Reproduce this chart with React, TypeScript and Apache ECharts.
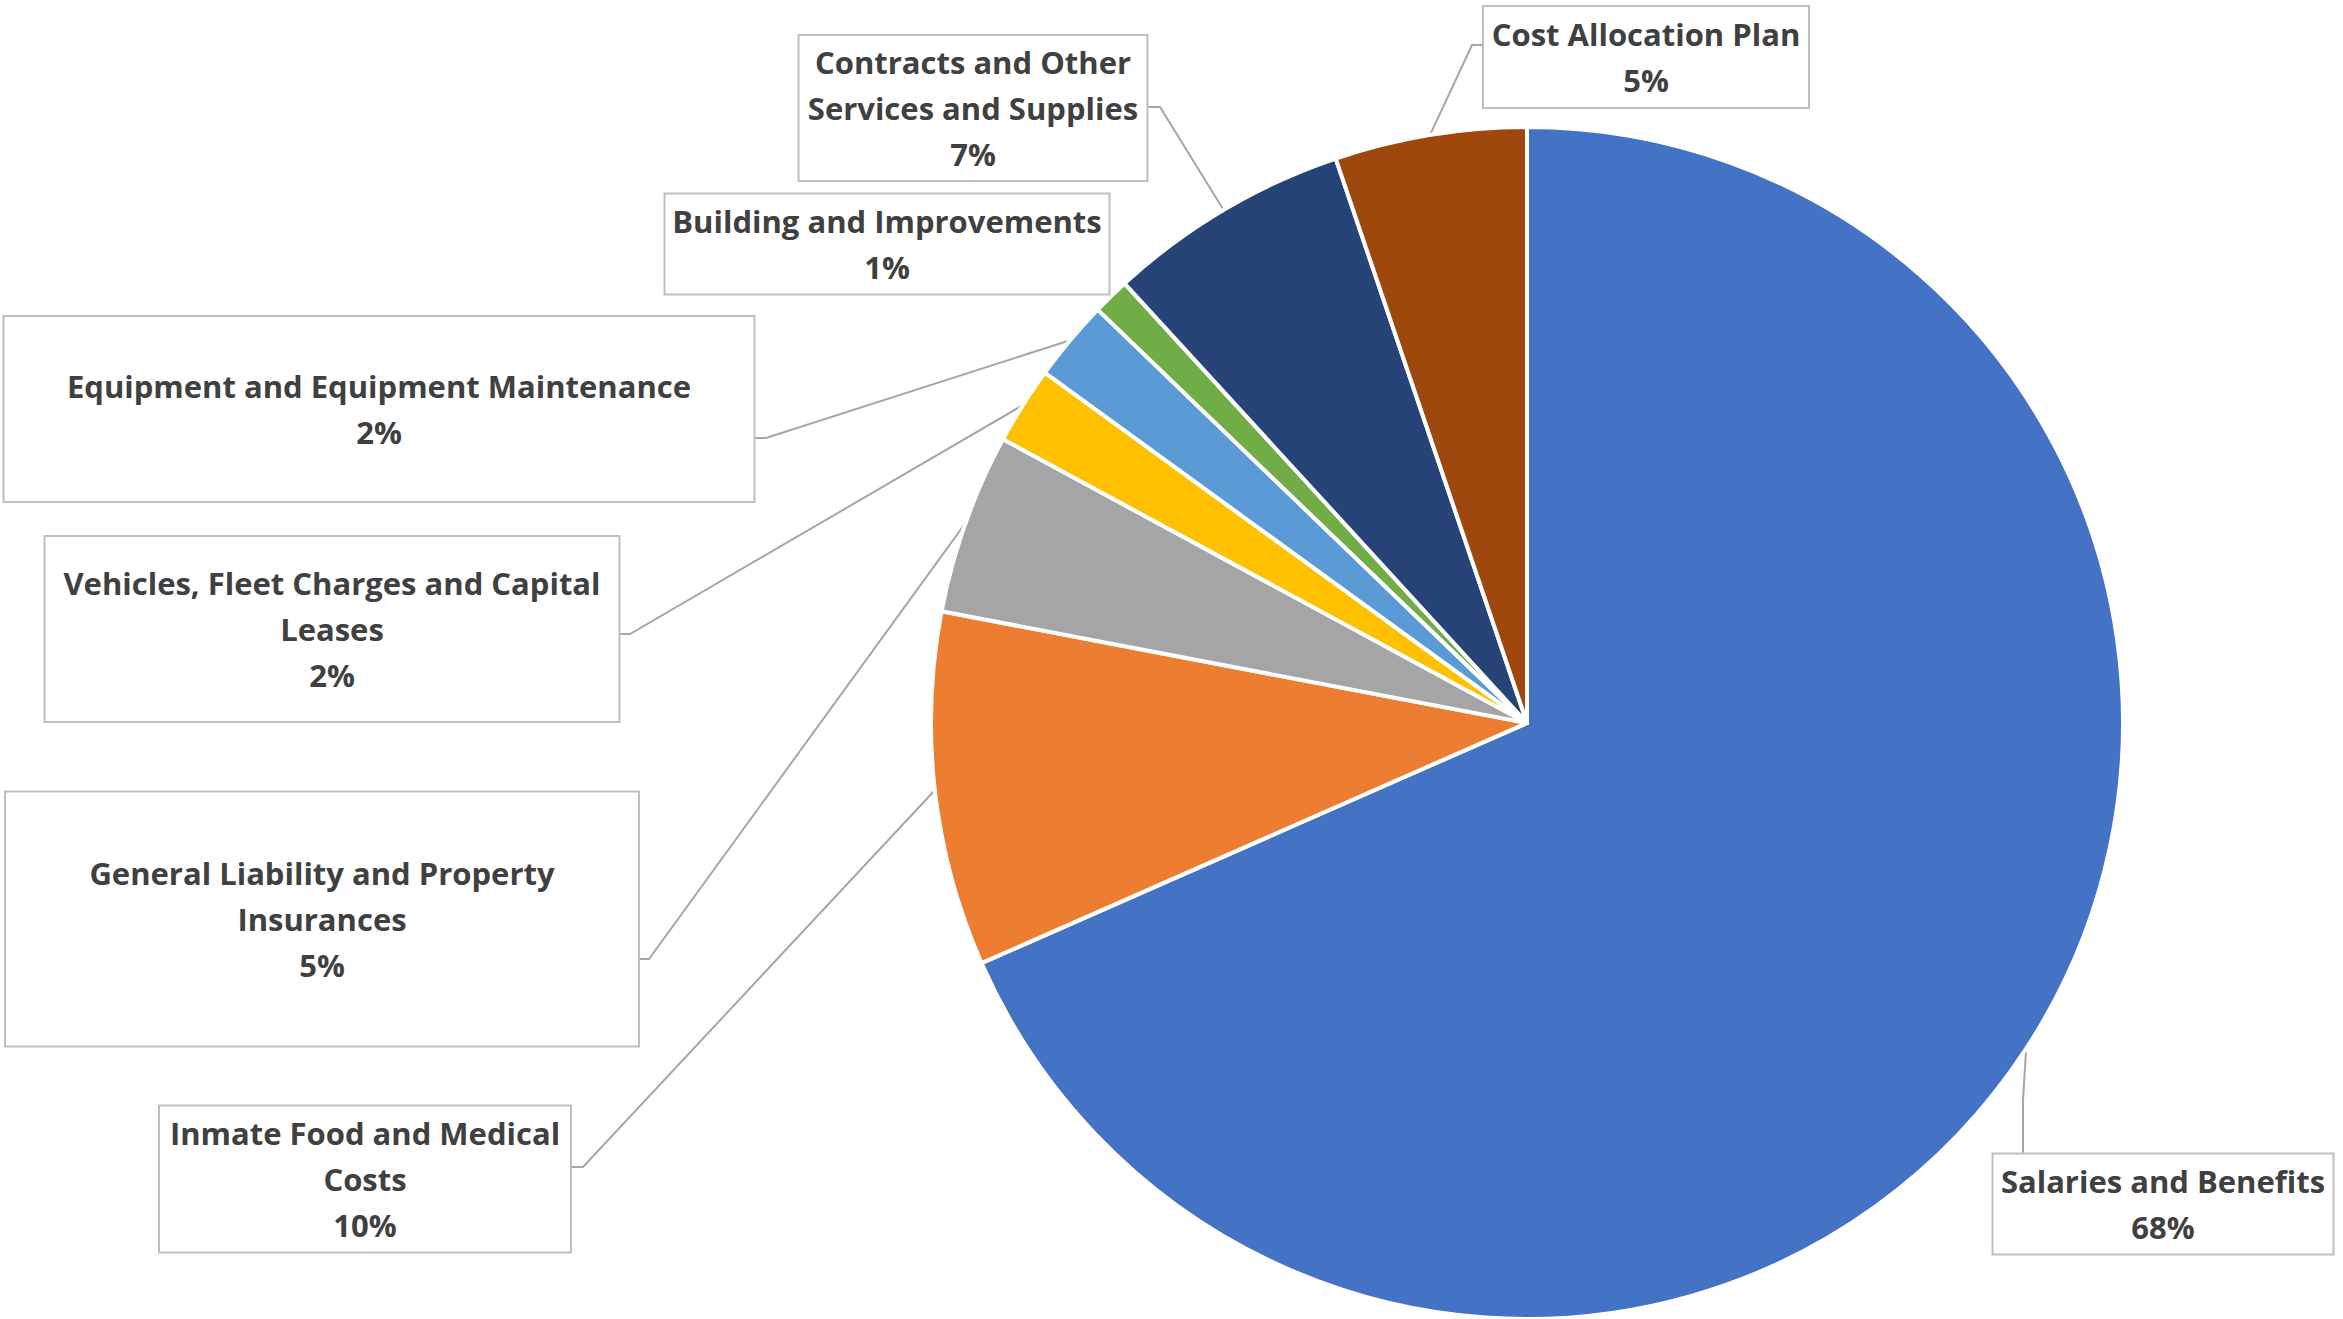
import React, { useEffect, useRef } from "react";
import * as echarts from "echarts";

// Data
const categories = [
  "Salaries and Benefits",
  "Inmate Food and Medical Costs",
  "General Liability and Property Insurances",
  "Vehicles, Fleet Charges and Capital Leases",
  "Equipment and Equipment Maintenance",
  "Building and Improvements",
  "Contracts and Other Services and Supplies",
  "Cost Allocation Plan",
];
const labelTexts = [
  "Salaries and Benefits",
  "Inmate Food and Medical\nCosts",
  "General Liability and Property\nInsurances",
  "Vehicles, Fleet Charges and Capital\nLeases",
  "Equipment and Equipment Maintenance",
  "Building and Improvements",
  "Contracts and Other\nServices and Supplies",
  "Cost Allocation Plan",
];
const values = [68.4, 9.6, 4.9, 2.1, 2.2, 1.0, 6.6, 5.2];
const colors = ["#4472C4", "#ED7D31", "#A5A5A5", "#FFC000", "#5B9BD5", "#70AD47", "#264478", "#9E480E"];

// Layout of the label boxes: [centerX, centerY, width, height]
const boxes = [
  [2163, 1204, 339, 99],
  [365, 1179, 410, 145],
  [322, 919, 632, 253],
  [332, 629, 573, 184],
  [379, 409, 749, 184],
  [887, 244, 443, 99],
  [973, 108, 347, 144],
  [1646, 57, 324, 100],
];
// Leader line: [bendX, bendY, endX, endY] or null
const leaders: (number[] | null)[] = [
  [2023, 1100, 2023, 1155],
  [583, 1167, 570, 1167],
  [649, 959, 637, 959],
  [630, 634, 617, 634],
  [766, 438, 754, 438],
  null,
  [1160, 107, 1148, 107],
  [1472, 45, 1484, 45],
];

export default function App() {
  const ref = useRef<HTMLDivElement>(null);
  useEffect(() => {
    if (!ref.current) return;
    const chart = echarts.init(ref.current, null, { renderer: "svg" });
    chart.setOption({
      animation: false,
      backgroundColor: "#ffffff",
      series: [
        {
          type: "pie",
          center: [1527, 723],
          radius: 596,
          startAngle: 90,
          clockwise: true,
          avoidLabelOverlap: false,
          itemStyle: { borderColor: "#ffffff", borderWidth: 4 },
          label: {
            show: true,
            position: "outside",
            overflow: "none",
            fontFamily: "'Open Sans', sans-serif",
            fontWeight: "bold",
            fontSize: 31,
            lineHeight: 46,
            color: "#404040",
            backgroundColor: "#ffffff",
            borderColor: "#bfbfbf",
            borderWidth: 2,
            padding: 0,
            formatter: (p: any) => `${labelTexts[p.dataIndex]}\n${Math.round(p.percent)}%`,
          },
          labelLine: {
            show: true,
            lineStyle: { color: "#a6a6a6", width: 2 },
          },
          labelLayout: (p: any) => {
            const b = boxes[p.dataIndex];
            const l = leaders[p.dataIndex];
            const out: any = {
              x: b[0],
              y: b[1],
              align: "center",
              verticalAlign: "middle",
              width: b[2],
              height: b[3],
            };
            if (l && p.labelLinePoints && p.labelLinePoints[0]) {
              out.labelLinePoints = [p.labelLinePoints[0], [l[0], l[1]], [l[2], l[3]]];
            }
            return out;
          },
          data: categories.map((name, i) => ({
            name,
            value: values[i],
            itemStyle: { color: colors[i] },
            labelLine: { show: leaders[i] !== null },
          })),
        },
      ],
    });
    return () => chart.dispose();
  }, []);
  return (
    <div
      ref={ref}
      style={{ position: "fixed", left: 0, top: 0, width: "2343px", height: "1319px" }}
    />
  );
}
